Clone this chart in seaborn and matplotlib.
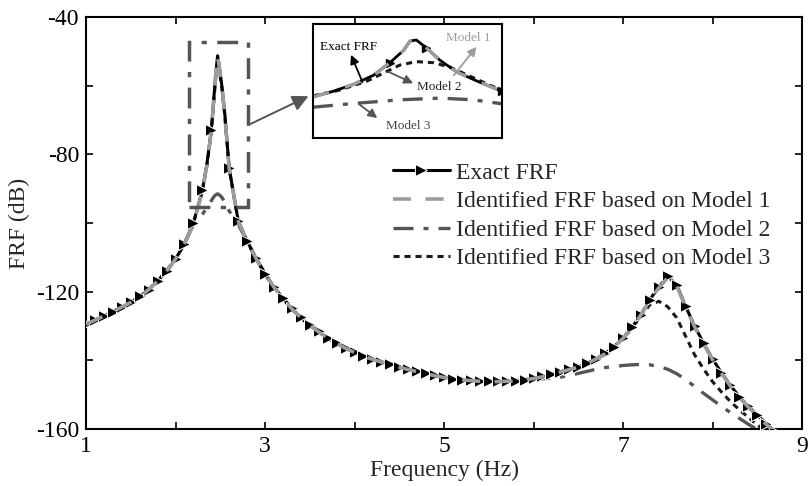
import matplotlib
matplotlib.use("Agg")
import matplotlib.pyplot as plt
import matplotlib.patches as patches
import seaborn as sns

# frequency grid (Hz), denser around the first peak
freq = [1.0, 1.1, 1.2, 1.3, 1.4, 1.5, 1.6, 1.7, 1.8, 1.9, 2.0, 2.1, 2.2, 2.3,
        2.35, 2.4, 2.43, 2.45, 2.47, 2.49, 2.52, 2.55, 2.6,
        2.7, 2.8, 2.9, 3.0, 3.1, 3.2, 3.3, 3.4, 3.5, 3.6, 3.7, 3.8, 3.9,
        4.0, 4.1, 4.2, 4.3, 4.4, 4.5, 4.6, 4.7, 4.8, 4.9,
        5.0, 5.1, 5.2, 5.3, 5.4, 5.5, 5.6, 5.7, 5.8, 5.9,
        6.0, 6.1, 6.2, 6.3, 6.4, 6.5, 6.6, 6.7, 6.8, 6.9,
        7.0, 7.1, 7.2, 7.3, 7.4, 7.5, 7.6, 7.7, 7.8, 7.9,
        8.0, 8.1, 8.2, 8.3, 8.4, 8.5, 8.6, 8.7, 8.8, 8.9, 9.0]

exact_frf = [-129.5, -128.3, -127.1, -125.8, -124.5, -123.1, -121.4, -119.4, -116.9, -114.0, -110.5, -106.0, -100.0, -90.5,
             -83.0, -73.0, -63.0, -56.5, -51.3, -54.5, -60.5, -68.0, -84.0,
             -99.3, -105.3, -110.2, -114.8, -118.6, -121.9, -124.9, -127.5, -129.7, -131.6, -133.4, -135.0, -136.4,
             -137.6, -138.7, -139.6, -140.4, -141.2, -141.9, -142.6, -143.2, -143.8, -144.4,
             -144.9, -145.3, -145.6, -145.8, -146.0, -146.1, -146.1, -146.0, -145.9, -145.6,
             -145.2, -144.7, -144.0, -143.3, -142.6, -141.9, -140.8, -139.5, -138.0, -136.0,
             -133.5, -130.4, -126.7, -122.3, -118.6, -115.5, -118.0, -124.3, -130.0, -135.0,
             -139.6, -143.6, -147.3, -150.6, -153.4, -155.9, -158.4, -160.8, -163.0, -165.0, -167.0]

model1_frf = [-129.5, -128.3, -127.1, -125.8, -124.5, -123.1, -121.4, -119.4, -116.9, -114.0, -110.5, -106.0, -100.3, -90.8,
              -83.3, -73.2, -63.2, -56.6, -51.4, -54.6, -60.7, -68.2, -84.2,
              -99.4, -105.4, -110.3, -114.9, -118.7, -122.0, -125.0, -127.6, -129.8, -131.7, -133.5, -135.1, -136.5,
              -137.7, -138.8, -139.7, -140.5, -141.3, -142.0, -142.7, -143.3, -143.9, -144.5,
              -145.0, -145.4, -145.7, -145.9, -146.1, -146.2, -146.2, -146.1, -146.0, -145.7,
              -145.3, -144.8, -144.1, -143.4, -142.7, -142.0, -140.9, -139.6, -138.1, -136.1,
              -133.6, -130.5, -126.8, -122.5, -118.9, -115.9, -118.3, -124.5, -130.2, -135.2,
              -139.8, -143.8, -147.5, -150.8, -153.6, -156.1, -158.6, -161.0, -163.2, -165.2, -167.2]

model2_frf = [-129.5, -128.3, -127.1, -125.8, -124.5, -123.1, -121.4, -119.4, -116.9, -114.0, -110.5, -106.0, -100.5, -97.5,
              -95.5, -93.5, -92.3, -91.8, -91.5, -91.8, -92.6, -94.0, -96.5,
              -100.3, -105.4, -110.3, -114.9, -118.7, -122.0, -125.0, -127.6, -129.8, -131.7, -133.5, -135.1, -136.5,
              -137.7, -138.8, -139.7, -140.5, -141.3, -142.0, -142.7, -143.3, -143.9, -144.5,
              -145.0, -145.4, -145.7, -145.9, -146.1, -146.2, -146.2, -146.1, -146.0, -145.7,
              -145.6, -145.4, -145.2, -144.9, -144.4, -143.8, -143.2, -142.6, -142.1, -141.8,
              -141.5, -141.3, -141.2, -141.3, -141.8, -142.6, -143.9, -145.6, -147.6, -149.6,
              -151.5, -153.4, -155.2, -156.9, -158.6, -160.2, -161.7, -163.1, -164.4, -165.6, -166.8]

model3_frf = [-129.5, -128.3, -127.1, -125.8, -124.5, -123.1, -121.4, -119.4, -116.9, -114.0, -110.5, -106.0, -100.1, -90.7,
              -83.4, -73.6, -64.0, -57.5, -53.0, -55.5, -61.0, -68.5, -84.3,
              -99.4, -105.4, -110.3, -114.9, -118.7, -122.0, -125.0, -127.6, -129.8, -131.7, -133.5, -135.1, -136.5,
              -137.7, -138.8, -139.7, -140.5, -141.3, -142.0, -142.7, -143.3, -143.9, -144.5,
              -145.0, -145.4, -145.7, -145.9, -146.1, -146.2, -146.2, -146.1, -146.0, -145.7,
              -145.3, -144.8, -144.1, -143.4, -142.7, -142.0, -140.9, -139.6, -138.1, -136.2,
              -133.8, -130.6, -127.2, -123.8, -122.8, -124.4, -127.6, -133.0, -138.4, -142.5,
              -146.2, -149.2, -152.0, -154.4, -156.6, -158.8, -160.8, -162.6, -164.2, -165.7, -167.1]

# zoomed view of the first peak (inset)
inset_freq = [2.400, 2.416, 2.432, 2.448, 2.461, 2.472, 2.477, 2.482, 2.490, 2.501, 2.514, 2.530, 2.550]
inset_exact = [-56.4, -55.9, -55.3, -54.5, -53.4, -52.3, -51.5, -51.4, -52.1, -53.2, -54.2, -55.0, -55.9]
inset_dot_freq = [2.400, 2.421, 2.443, 2.456, 2.469, 2.482, 2.496, 2.509, 2.525, 2.541, 2.550]
inset_dot = [-56.3, -55.8, -55.0, -54.3, -53.6, -53.3, -53.4, -53.8, -54.6, -55.4, -55.8]
inset_dd_freq = [2.400, 2.429, 2.469, 2.501, 2.527, 2.550]
inset_dd = [-57.3, -57.0, -56.65, -56.5, -56.65, -57.0]

legend_labels = ["Exact FRF",
                 "Identified FRF based on Model 1",
                 "Identified FRF based on Model 2",
                 "Identified FRF based on Model 3"]

sns.set_theme(style="ticks")
plt.rcParams["font.family"] = ["Liberation Serif", "DejaVu Serif"]

fig = plt.figure(figsize=(8.08, 4.86), dpi=100)
ax = fig.add_axes([86 / 808, 1 - 429 / 486, 716 / 808, 412 / 486])

# markers on the exact FRF every 0.1 Hz
on_grid = [abs(f * 10 - round(f * 10)) < 1e-6 for f in freq]

sns.lineplot(x=freq, y=exact_frf, ax=ax, color="black", lw=2.2, marker=">",
             markersize=8, markevery=on_grid, label=legend_labels[0], zorder=3)
sns.lineplot(x=freq, y=model1_frf, ax=ax, color="#9c9c9c", lw=2.6,
             linestyle=(0, (5, 4)), label=legend_labels[1], zorder=4)
sns.lineplot(x=freq, y=model2_frf, ax=ax, color="#555555", lw=2.4,
             linestyle=(0, (6, 3, 1.5, 3)), label=legend_labels[2], zorder=2)
sns.lineplot(x=freq, y=model3_frf, ax=ax, color="#1a1a1a", lw=2.2,
             linestyle=(0, (2, 1.6)), label=legend_labels[3], zorder=2)

ax.set_xlim(1, 9)
ax.set_ylim(-160, -40)
ax.set_xticks(range(1, 10))
ax.set_xticklabels([str(v) if v % 2 == 1 else "" for v in range(1, 10)])
ax.set_yticks(range(-160, -39, 20))
ax.set_yticklabels([str(v) if v % 40 == 0 else "" for v in range(-160, -39, 20)])
ax.tick_params(direction="in", length=5, width=1.2, top=True, right=True,
               labelsize=17, pad=5, colors="black")
for s in ax.spines.values():
    s.set_linewidth(1.5)
    s.set_color("black")
ax.set_xlabel("Frequency (Hz)", fontsize=17, labelpad=2)
ax.set_ylabel("FRF (dB)", fontsize=17, labelpad=4)

leg = ax.legend(loc="upper left", bbox_to_anchor=(0.429, 0.648), frameon=False,
                fontsize=17, handlelength=2.4, handletextpad=0.25,
                labelspacing=0.30, borderpad=0, borderaxespad=0)

# dash-dot box around the first peak
box = patches.Rectangle((2.15, -95.2), 0.66, 47.9, fill=False, edgecolor="#555555",
                        lw=2.5, linestyle=(0, (6, 3, 1.5, 3)), zorder=5)
ax.add_patch(box)

# arrow from the box to the inset
ax.annotate("", xy=(311 / 808, 1 - 95 / 486), xycoords="figure fraction",
            xytext=(2.81, -71.5), textcoords="data",
            arrowprops=dict(arrowstyle="-|>", color="#555555", lw=1.4, mutation_scale=24))

# inset axes
axin = fig.add_axes([313 / 808, 1 - 138 / 486, 189 / 808, 114 / 486])
axin.plot(inset_dd_freq, inset_dd, color="#555555", lw=2.4, linestyle=(0, (6, 3, 1.5, 3)))
axin.plot(inset_dot_freq, inset_dot, color="#1a1a1a", lw=2.2, linestyle=(0, (2, 1.6)))
axin.plot(inset_freq, inset_exact, color="black", lw=2.0, marker=">", markersize=6,
          markevery=[4, 8, 12])
axin.plot(inset_freq, inset_exact, color="#9c9c9c", lw=2.4, linestyle=(0, (5, 5)))
axin.set_xlim(2.40, 2.55)
axin.set_ylim(-60, -50)
axin.set_xticks([])
axin.set_yticks([])
for s in axin.spines.values():
    s.set_linewidth(1.5)
    s.set_color("black")

arrow_kw = dict(arrowstyle="-|>", lw=1.3, mutation_scale=13, shrinkA=0, shrinkB=0)
axin.annotate("", xy=(0.201, 0.73), xytext=(0.262, 0.49), xycoords="axes fraction",
              arrowprops=dict(color="black", **arrow_kw))
axin.text(0.187, 0.80, "Exact FRF", transform=axin.transAxes, fontsize=9.5,
          ha="center", va="center", color="black")
axin.annotate("", xy=(0.865, 0.80), xytext=(0.745, 0.55), xycoords="axes fraction",
              arrowprops=dict(color="#9c9c9c", **arrow_kw))
axin.text(0.822, 0.874, "Model 1", transform=axin.transAxes, fontsize=9.5,
          ha="center", va="center", color="#9c9c9c")
axin.annotate("", xy=(0.53, 0.48), xytext=(0.40, 0.58), xycoords="axes fraction",
              arrowprops=dict(color="#555555", **arrow_kw))
axin.text(0.549, 0.445, "Model 2", transform=axin.transAxes, fontsize=9.5,
          ha="left", va="center", color="#222222")
axin.annotate("", xy=(0.34, 0.175), xytext=(0.245, 0.295), xycoords="axes fraction",
              arrowprops=dict(color="#555555", **arrow_kw))
axin.text(0.386, 0.105, "Model 3", transform=axin.transAxes, fontsize=9.5,
          ha="left", va="center", color="#444444")

fig.savefig("out.png", dpi=100)
plt.close(fig)
